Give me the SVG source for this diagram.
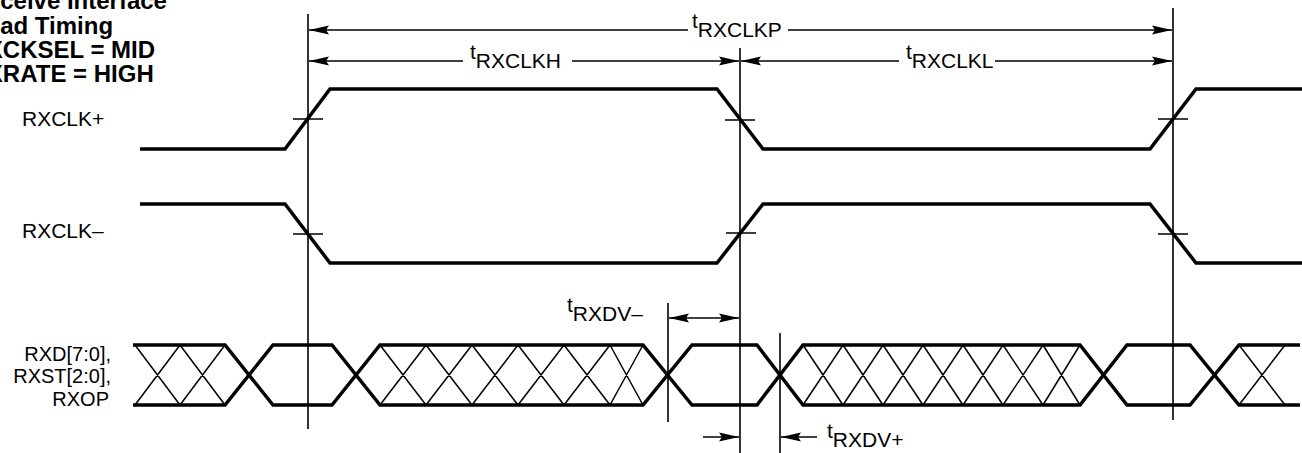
<svg xmlns="http://www.w3.org/2000/svg" width="1302" height="453" viewBox="0 0 1302 453">
<style>
.bg{fill:#fff}
.title{font-family:"Liberation Sans",Arial,sans-serif;font-weight:bold;font-size:24px;fill:#000}
.lbl{font-family:"Liberation Sans",Arial,sans-serif;font-size:21px;fill:#000}
.bus{font-family:"Liberation Sans",Arial,sans-serif;font-size:20px;fill:#000}
.wave{fill:none;stroke:#000;stroke-width:3.5;stroke-linejoin:miter}
.hatch{fill:none;stroke:#000;stroke-width:1.5}
.ref{fill:none;stroke:#000;stroke-width:1.6}
.tick{fill:none;stroke:#000;stroke-width:1.6}
.dim{fill:none;stroke:#000;stroke-width:1.6;marker-end:url(#ah)}
.dim2{fill:none;stroke:#000;stroke-width:1.6;marker-start:url(#ah);marker-end:url(#ah)}
</style>
<defs>
<marker id="ah" viewBox="0 0 20 10" refX="20" refY="5" markerWidth="20" markerHeight="10" markerUnits="userSpaceOnUse" orient="auto-start-reverse">
<path d="M0,0.6 L20,5 L0,9.4 L3,5 Z" fill="#000"/>
</marker>
</defs>
<rect class="bg" x="0" y="0" width="1302" height="453"/>

<g id="title">
<text class="title" x="-30.5" y="9">Receive Interface</text>
<text class="title" x="-30.5" y="33.5">Read Timing</text>
<text class="title" x="-30.5" y="57.5">RXCKSEL = MID</text>
<text class="title" x="-30.5" y="81.5">RXRATE = HIGH</text>
</g>

<g id="reference-lines">
<line class="ref" x1="308" y1="14" x2="308" y2="429"/>
<line class="ref" x1="740" y1="48" x2="740" y2="453"/>
<line class="ref" x1="1173" y1="8" x2="1173" y2="420"/>
<line class="ref" x1="668" y1="303" x2="668" y2="422"/>
<line class="ref" x1="780" y1="333" x2="780" y2="453"/>
</g>

<g id="rxclk-plus">
<text class="lbl" x="22" y="126">RXCLK+</text>
<path class="wave" d="M140,149 H285 L330,89 H717 L763,149 H1150 L1196,89 H1302"/>
<path class="tick" d="M293,119 H323 M725,120 H755 M1158,119 H1188"/>
</g>

<g id="rxclk-minus">
<text class="lbl" x="22" y="238">RXCLK–</text>
<path class="wave" d="M140,204 H285 L330,263 H717 L763,204 H1150 L1196,263 H1302"/>
<path class="tick" d="M293,234 H323 M726,233 H756 M1158,234 H1188"/>
</g>

<g id="rxd-bus">
<text class="bus" x="111" y="360.5" text-anchor="end">RXD[7:0],</text>
<text class="bus" x="111" y="382.5" text-anchor="end">RXST[2:0],</text>
<text class="bus" x="109" y="405.5" text-anchor="end">RXOP</text>
<path class="hatch" d="M135,345 L180,405 M135,405 L180,345 M180,345 L225,405 M180,405 L225,345
M380,345 L426,405 M380,405 L426,345 M426,345 L472,405 M426,405 L472,345 M472,345 L518,405 M472,405 L518,345 M518,345 L564,405 M518,405 L564,345 M564,345 L610,405 M564,405 L610,345 M610,345 L643,405 M610,405 L643,345
M803,345 L843,405 M803,405 L843,345 M843,345 L883,405 M843,405 L883,345 M883,345 L923,405 M883,405 L923,345 M923,345 L963,405 M923,405 L963,345 M963,345 L1003,405 M963,405 L1003,345 M1003,345 L1043,405 M1003,405 L1043,345 M1043,345 L1080,405 M1043,405 L1080,345
M1239,345 L1285,405 M1239,405 L1285,345"/>
<path class="wave" d="M133,345 H225 L273,405 H332 L380,345 H643 L692,405 H757 L803,345 H1080 L1127,405 H1190 L1239,345 H1300"/>
<path class="wave" d="M133,405 H225 L273,345 H332 L380,405 H643 L692,345 H757 L803,405 H1080 L1127,345 H1190 L1239,405 H1300"/>
</g>

<g id="connectors">
<line class="dim" x1="688" y1="30" x2="309" y2="30"/>
<line class="dim" x1="788" y1="30" x2="1172" y2="30"/>
<line class="dim" x1="463" y1="61" x2="309" y2="61"/>
<line class="dim" x1="572" y1="61" x2="739" y2="61"/>
<line class="dim" x1="899" y1="61" x2="741" y2="61"/>
<line class="dim" x1="995" y1="61" x2="1172" y2="61"/>
<line class="dim2" x1="669" y1="318" x2="739" y2="318"/>
<line class="dim" x1="703" y1="437" x2="739" y2="437"/>
<line class="dim" x1="817" y1="437" x2="781" y2="437"/>
</g>

<g id="timing-labels">
<text class="lbl" x="692" y="28">t<tspan y="37">RXCLKP</tspan></text>
<text class="lbl" x="470" y="59">t<tspan y="68">RXCLKH</tspan></text>
<text class="lbl" x="906" y="59">t<tspan y="68">RXCLKL</tspan></text>
<text class="lbl" x="567" y="312">t<tspan y="321">RXDV–</tspan></text>
<text class="lbl" x="827" y="438">t<tspan y="447">RXDV+</tspan></text>
</g>
</svg>
